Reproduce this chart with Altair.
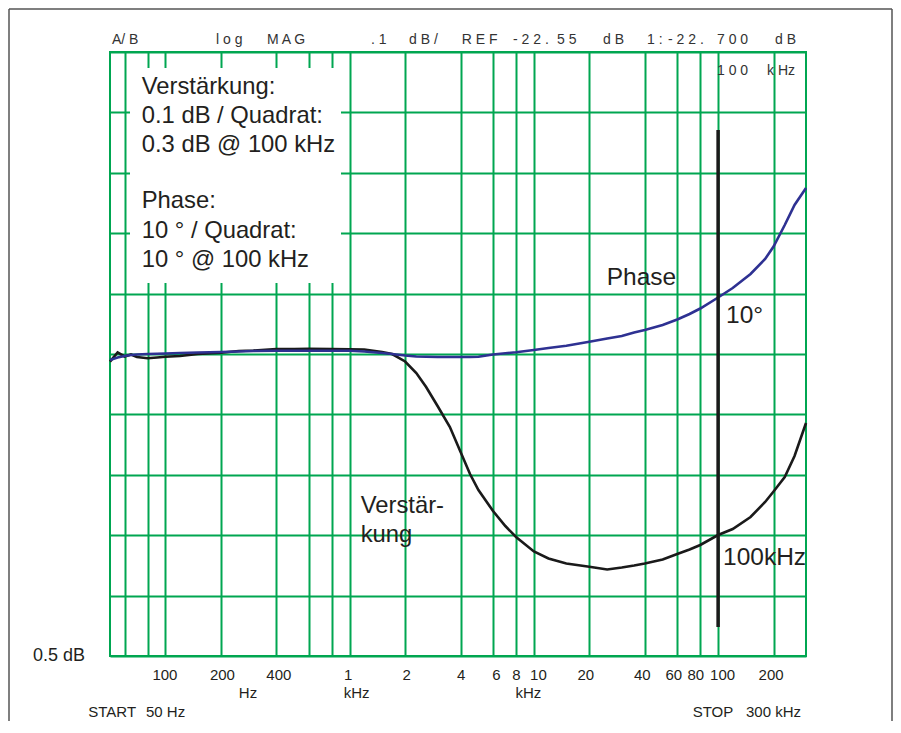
import json
import altair as alt
import pandas as pd

# ---- data (network analyser plot) ----
freq_hz = [50, 55, 60, 65, 70, 80, 90, 100, 120, 150, 200, 250, 300, 400, 500, 600, 800,
           1000, 1200, 1500, 1700, 2000, 2300, 2600, 3000, 3500, 4000, 4500, 5000, 6000,
           7000, 8000, 10000, 12000, 15000, 20000, 25000, 30000, 35000, 40000, 50000,
           60000, 70000, 80000, 100000, 120000, 150000, 180000, 200000, 230000, 260000, 300000]
gain_db = [-0.0127, 0.0025, -0.0041, -0.0008, -0.0050, -0.0071, -0.0058, -0.0045, -0.0033,
           0.0000, 0.0020, 0.0050, 0.0058, 0.0083, 0.0083, 0.0088, 0.0083, 0.0078, 0.0075,
           0.0033, 0.0000, -0.0124, -0.0315, -0.0546, -0.0861, -0.1209, -0.1623, -0.1987,
           -0.2252, -0.2599, -0.2848, -0.3030, -0.3270, -0.3386, -0.3469, -0.3522, -0.3568,
           -0.3535, -0.3502, -0.3469, -0.3402, -0.3311, -0.3237, -0.3162, -0.2997, -0.2897,
           -0.2699, -0.2450, -0.2276, -0.2036, -0.1689, -0.1142]
phase_deg = [-0.99, -0.58, -0.33, -0.17, -0.08, 0.00, 0.03, 0.08, 0.17, 0.25, 0.33, 0.41,
             0.50, 0.53, 0.55, 0.55, 0.55, 0.53, 0.41, 0.17, 0.00, -0.25, -0.41, -0.46,
             -0.50, -0.50, -0.50, -0.50, -0.45, -0.08, 0.12, 0.28, 0.66, 0.99, 1.36, 2.04,
             2.57, 2.98, 3.56, 3.97, 4.80, 5.71, 6.62, 7.53, 9.35, 10.93, 13.25, 15.73,
             17.80, 21.36, 24.67, 27.48]
tick_values = [60, 80, 100, 200, 400, 600, 800, 1000, 2000, 4000, 6000, 8000, 10000,
               20000, 40000, 60000, 80000, 100000, 200000]
tick_labels = ["", "", "100", "200", "400", "", "", "1", "2", "4", "6", "8", "10",
               "20", "40", "60", "80", "100", "200"]
grid_db = [-0.5, -0.4, -0.3, -0.2, -0.1, 0.0, 0.1, 0.2, 0.3, 0.4, 0.5]
marker_hz = [100000]

# ---- styling ----
GREEN = "#00A651"
FONT = "Liberation Sans"
TXT = "#231f20"
label_shift = {100: -1, 200: 1, 400: 2, 1000: -2, 2000: 1, 6000: 3, 10000: 4,
               20000: -4, 40000: -3, 60000: -4, 80000: -5, 100000: 4, 200000: -3}

df = pd.DataFrame({"f": freq_hz, "gain": gain_db, "phase": phase_deg})

xscale = alt.Scale(type="log", domain=[50, 300000], nice=False)
label_expr = f"{json.dumps(tick_labels)}[indexof({json.dumps(tick_values)}, datum.value)]"
xaxis = alt.Axis(
    values=tick_values, labelExpr=label_expr, grid=True, gridColor=GREEN, gridWidth=2,
    ticks=False, tickSize=0, domain=False, labelFont=FONT, labelFontSize=15,
    labelColor=TXT, labelPadding=23, labelBaseline="alphabetic", labelOverlap=False,
    labelFlush=False, title=None,
    labelOffset={"condition": [{"test": f"datum.value == {k}", "value": v}
                               for k, v in label_shift.items()], "value": 0},
)
yaxis = alt.Axis(values=grid_db, grid=True, gridColor=GREEN, gridWidth=2, labels=False,
                 ticks=False, domain=False, title=None)

one = pd.DataFrame({"k": [0]})


def label(s, x, y, size, align="left", color=TXT):
    return alt.Chart(pd.DataFrame({"t": [s]})).mark_text(
        align=align, baseline="alphabetic", font=FONT, fontSize=size, color=color
    ).encode(x=alt.value(x), y=alt.value(y), text="t:N")


white_box = alt.Chart(one).mark_rect(fill="white").encode(
    x=alt.value(20), x2=alt.value(231), y=alt.value(16), y2=alt.value(231))

gain_line = alt.Chart(df).mark_line(color="#1a1a1a", strokeWidth=2.6).encode(
    x=alt.X("f:Q", scale=xscale, axis=xaxis),
    y=alt.Y("gain:Q", scale=alt.Scale(domain=[-0.5, 0.5], nice=False, zero=False), axis=yaxis),
)
phase_line = alt.Chart(df).mark_line(color="#2E3192", strokeWidth=2.6).encode(
    x=alt.X("f:Q", scale=xscale),
    y=alt.Y("phase:Q", scale=alt.Scale(domain=[-50, 50], nice=False, zero=False), axis=None),
)
marker = alt.Chart(pd.DataFrame({"f": marker_hz})).mark_rule(
    color="#1a1a1a", strokeWidth=3.5).encode(
    x=alt.X("f:Q", scale=xscale), y=alt.value(78), y2=alt.value(575))

frame_l = alt.Chart(one).mark_rule(color="#555555", strokeWidth=1.5).encode(
    x=alt.value(-101), y=alt.value(-43), y2=alt.value(670))
frame_r = alt.Chart(one).mark_rule(color="#555555", strokeWidth=1.5).encode(
    x=alt.value(782), y=alt.value(-43), y2=alt.value(670))
frame_t = alt.Chart(one).mark_rule(color="#555555", strokeWidth=1.5).encode(
    x=alt.value(-101), x2=alt.value(782), y=alt.value(-43))

HS = 14
HC = "#333333"
BIG = 23.8
texts = [
    label("A/ B", 2, -8, HS, color=HC),
    label("l o g", 106, -8, HS, color=HC),
    label("M A G", 157, -8, HS, color=HC),
    label(". 1", 261, -8, HS, color=HC),
    label("d B /", 299, -8, HS, color=HC),
    label("R E F", 351.7, -8, HS, color=HC),
    label("- 2 2 .", 403, -8, HS, color=HC),
    label("5 5", 447, -8, HS, color=HC),
    label("d B", 493, -8, HS, color=HC),
    label("1 :", 537, -8, HS, color=HC),
    label("- 2 2 .", 558, -8, HS, color=HC),
    label("7 0 0", 607, -8, HS, color=HC),
    label("d B", 665, -8, HS, color=HC),
    label("1 0 0", 607, 23, HS, color=HC),
    label("k Hz", 657, 23, HS, color=HC),
    # legend box
    label("Verstärkung:", 31.7, 42.3, BIG),
    label("0.1 dB / Quadrat:", 31.7, 71.3, BIG),
    label("0.3 dB @ 100 kHz", 31.7, 100, BIG),
    label("Phase:", 31.7, 156.3, BIG),
    label("10 ° / Quadrat:", 31.7, 185.5, BIG),
    label("10 ° @ 100 kHz", 31.7, 214.7, BIG),
    # curve annotations
    label("Phase", 496.7, 233, 24.5),
    label("10°", 616, 271.3, 24.5),
    label("100kHz", 613, 513, 24.5),
    label("Verstär-", 250.7, 460.7, BIG),
    label("kung", 250.7, 489.7, BIG),
    # bottom texts
    label("Hz", 138, 646, 15, align="center"),
    label("kHz", 246.7, 646, 15, align="center"),
    label("kHz", 418.3, 646, 15, align="center"),
    label("START", -21.7, 665, 15),
    label("50 Hz", 36, 665, 15),
    label("STOP", 582.7, 665, 15),
    label("300 kHz", 636, 665, 15),
    label("0.5 dB", -25, 609, 18, align="right"),
]

chart = alt.layer(
    white_box, gain_line, phase_line, marker, frame_l, frame_r, frame_t, *texts
).resolve_scale(y="independent").properties(
    width=696, height=604,
    padding={"left": 102, "top": 44, "right": 87, "bottom": 65},
    autosize=alt.AutoSizeParams(type="none"),
    background="white",
).configure_view(stroke=GREEN, strokeWidth=2)

chart.save("out.html", embed_options={"renderer": "svg", "actions": False})
